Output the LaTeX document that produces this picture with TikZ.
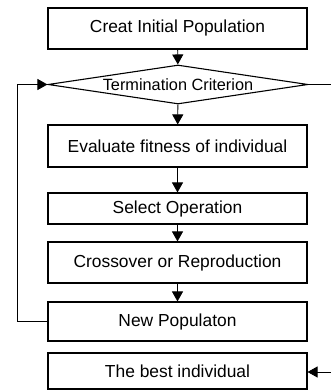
\documentclass[tikz,border=0pt]{standalone}
\usepackage{fontspec}
\setmainfont{Liberation Sans}
\usetikzlibrary{shapes.geometric,arrows.meta}
\begin{document}
\begin{tikzpicture}[x=1pt,y=-1pt,
  box/.style={draw,line width=1.1pt,minimum width=259pt,inner sep=0pt,font=\fontsize{17.4}{20}\selectfont},
  arr/.style={line width=0.9pt,-{Triangle[length=10pt,width=11pt]}},
  ln/.style={line width=0.9pt}]
\useasboundingbox (0,0) rectangle (330,390);
\node[box,minimum height=41pt] (init) at (177.5,28.5) {Creat Initial Population};
\node[draw,line width=1.1pt,shape=diamond,aspect=6.67,minimum width=260pt,minimum height=39pt,inner sep=0pt,font=\fontsize{16.3}{19}\selectfont] (term) at (178,84.5) {Termination Criterion};
\node[box,minimum height=42pt] (eval) at (177.5,146) {Evaluate fitness of individual};
\node[box,minimum height=31pt] (sel) at (177.5,208.5) {Select Operation};
\node[box,minimum height=41pt] (cross) at (177.5,262.5) {Crossover or Reproduction};
\node[box,minimum height=39pt] (newp) at (177.5,321.5) {New Populaton};
\node[box,minimum height=36pt] (best) at (177.5,371) {The best individual};
\coordinate (rtop) at (331,84.5);
\coordinate (rbot) at (331,372);
\coordinate (lb) at (17,321.5);
\coordinate (lt) at (17,84.5);
\draw[arr] (init) -- (term);
\draw[arr] (term) -- (eval);
\draw[arr] (eval) -- (sel);
\draw[arr] (sel) -- (cross);
\draw[arr] (cross) -- (newp);
\draw[ln] (term.east) -- (rtop);
\draw[arr] (rbot) -- (best.east |- rbot);
\draw[arr] (newp.west) -- (lb) -- (lt) -- (term.west);
\end{tikzpicture}
\end{document}
